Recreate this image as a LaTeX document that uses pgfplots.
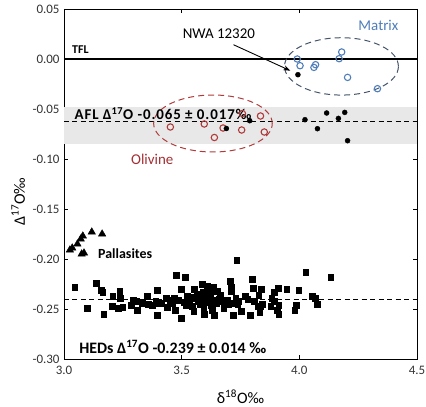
\documentclass[border=0pt]{standalone}
\usepackage{fontspec}
\setmainfont{Carlito}
\usepackage{pgfplots}
\pgfplotsset{compat=1.18}
\usetikzlibrary{arrows.meta}
\definecolor{matblue}{HTML}{4F7EBB}
\definecolor{olired}{HTML}{B03A3A}
\definecolor{olitext}{HTML}{A32E32}
\definecolor{matell}{HTML}{44546A}
\definecolor{band}{HTML}{E8E8E8}
\begin{document}
\begin{tikzpicture}
\path[use as bounding box] (-64bp,-48bp) rectangle (362bp,359bp);
\begin{axis}[
  scale only axis, width=353bp, height=350bp,
  xmin=3, xmax=4.5, ymin=-0.30, ymax=0.05,
  xtick={3,3.5,4,4.5},
  ytick={-0.30,-0.25,-0.20,-0.15,-0.10,-0.05,0,0.05},
  tick align=inside, major tick length=4bp,
  tick style={black, line width=0.8pt},
  axis line style={line width=1pt},
  /pgf/number format/assume math mode=true,
  xticklabel style={/pgf/number format/fixed, /pgf/number format/fixed zerofill, /pgf/number format/precision=1, font=\fontsize{13}{15}\selectfont, color=black!80, yshift=-4bp},
  yticklabel style={/pgf/number format/fixed, /pgf/number format/fixed zerofill, /pgf/number format/precision=2, font=\fontsize{13}{15}\selectfont, color=black!80, xshift=-1bp},
  scaled y ticks=false,
  xlabel={δ\textsuperscript{18}O‰},
  ylabel={Δ\textsuperscript{17}O‰},
  xlabel style={at={(axis description cs:0.5,-0.108)}, anchor=center, font=\fontsize{16}{18}\selectfont},
  ylabel style={at={(axis description cs:-0.130,0.45)}, anchor=center, rotate=0, font=\fontsize{16}{18}\selectfont},
  clip=false,
]
% AFL band
\fill[band] (axis cs:3,-0.048) rectangle (axis cs:4.5,-0.0847);
% TFL
\addplot[black, line width=1.4pt] coordinates {(3,0) (4.5,0)};
% AFL dashed
\addplot[black, dashed, line width=1pt, dash pattern=on 5bp off 3.5bp] coordinates {(3,-0.0624) (4.5,-0.0624)};
% HED dashed
\addplot[black, dashed, line width=1pt, dash pattern=on 5bp off 3.5bp] coordinates {(3,-0.2407) (4.5,-0.2407)};
% Ellipses
\draw[matell, dashed, line width=1pt, dash pattern=on 6bp off 4bp] (axis cs:4.179,-0.0074) ellipse [x radius=0.242, y radius=0.0287];
\draw[olired, dashed, line width=1pt, dash pattern=on 6bp off 4bp] (axis cs:3.633,-0.0645) ellipse [x radius=0.252, y radius=0.0285];
% Matrix open circles
\addplot[only marks, mark=o, mark size=3.2bp, mark options={matblue, line width=1.1pt}] coordinates {
(3.991,0.000) (4.003,-0.0067) (4.062,-0.0084) (4.069,-0.0057) (4.169,0.0003) (4.180,0.007) (4.205,-0.0184) (4.332,-0.0297)};
% Olivine open circles
\addplot[only marks, mark=o, mark size=3.2bp, mark options={olired, line width=1.1pt}] coordinates {
(3.452,-0.068) (3.596,-0.065) (3.639,-0.0785) (3.676,-0.069) (3.758,-0.0545) (3.755,-0.071) (3.835,-0.057) (3.851,-0.073)};
% Black dots (AFL bulk)
\addplot[only marks, mark=*, mark size=2.5bp, mark options={black}] coordinates {
(3.994,-0.0157) (4.024,-0.0607) (4.077,-0.0697) (4.116,-0.054) (4.166,-0.0594) (4.193,-0.0534) (4.205,-0.0817) (3.690,-0.0695) (3.789,-0.0617)};
% Pallasites
\addplot[only marks, mark=triangle*, mark size=4.3bp, mark options={black}] coordinates {
(3.025,-0.191) (3.035,-0.189) (3.057,-0.185) (3.071,-0.180) (3.080,-0.177) (3.118,-0.173) (3.162,-0.175) (3.075,-0.195) (3.085,-0.194)};
% HEDs
\addplot[only marks, mark=square*, mark size=2.8bp, mark options={black}] coordinates {
(3.046,-0.228) (3.136,-0.224) (3.159,-0.231) (3.165,-0.233) (3.098,-0.249) (3.169,-0.255)
(3.207,-0.237) (3.205,-0.247) (3.236,-0.232) (3.240,-0.239) (3.230,-0.249) (3.250,-0.248)
(3.285,-0.246) (3.293,-0.241) (3.307,-0.242) (3.311,-0.251) (3.332,-0.244) (3.354,-0.237)
(3.358,-0.245) (3.375,-0.246) (3.389,-0.242) (3.396,-0.231) (3.396,-0.256) (3.403,-0.244)
(3.733,-0.201) (3.477,-0.216) (3.516,-0.218) (3.497,-0.230) (3.416,-0.244) (3.435,-0.239)
(3.438,-0.248) (3.452,-0.241) (3.469,-0.239) (3.473,-0.251) (3.487,-0.241) (3.497,-0.259)
(3.508,-0.243) (3.523,-0.237) (3.534,-0.242) (3.544,-0.247) (3.551,-0.252) (3.554,-0.230)
(3.565,-0.235) (3.568,-0.242) (3.579,-0.245) (3.587,-0.225) (3.591,-0.233) (3.594,-0.249)
(3.597,-0.255) (3.605,-0.239) (3.608,-0.227) (3.615,-0.242) (3.622,-0.234) (3.625,-0.246)
(3.629,-0.251) (3.636,-0.228) (3.639,-0.256) (3.648,-0.244) (3.651,-0.232) (3.665,-0.236)
(3.672,-0.242) (3.679,-0.249) (3.693,-0.241) (3.707,-0.222) (3.710,-0.228) (3.710,-0.232)
(3.715,-0.244) (3.719,-0.256) (3.729,-0.239) (3.738,-0.245) (3.753,-0.252) (3.771,-0.237)
(3.781,-0.240) (3.792,-0.256) (3.800,-0.220) (3.804,-0.229) (3.807,-0.242) (3.824,-0.247)
(3.828,-0.236) (4.027,-0.213) (4.133,-0.218) (3.839,-0.230) (3.910,-0.229) (3.946,-0.230)
(3.998,-0.231) (3.892,-0.233) (3.882,-0.239) (3.892,-0.242) (3.842,-0.245) (3.835,-0.247)
(3.878,-0.247) (3.913,-0.246) (3.906,-0.251) (3.913,-0.255) (3.831,-0.253) (3.987,-0.246)
(3.981,-0.251) (4.055,-0.237) (4.067,-0.239) (4.077,-0.245)
(3.58,-0.240) (3.60,-0.243) (3.62,-0.238) (3.64,-0.241) (3.66,-0.240) (3.56,-0.239)
(3.46,-0.244) (3.52,-0.246) (3.70,-0.245) (3.74,-0.242) (3.63,-0.245) (3.55,-0.238)};
% Text
\node[anchor=west, font=\fontsize{12}{14}\selectfont\bfseries] at (axis cs:3.02,0.0095) {TFL};
\node[anchor=west, font=\fontsize{15}{17}\selectfont\bfseries\addfontfeature{LetterSpace=6}] at (axis cs:3.03,-0.0545) {AFL Δ\textsuperscript{17}O -0.065 ± 0.017‰};
\node[font=\fontsize{15}{17}\selectfont] at (axis cs:3.658,0.025) {NWA 12320};
\node[font=\fontsize{15}{17}\selectfont, text=matblue] at (axis cs:4.336,0.0335) {Matrix};
\node[font=\fontsize{15}{17}\selectfont, text=olitext] at (axis cs:3.375,-0.1) {Olivine};
\node[font=\fontsize{14}{16}\selectfont\bfseries] at (axis cs:3.26,-0.195) {Pallasites};
\node[anchor=west, font=\fontsize{16}{18}\selectfont\bfseries] at (axis cs:3.05,-0.288) {HEDs Δ\textsuperscript{17}O -0.239 ± 0.014 ‰};
\draw[-{Stealth[length=7bp,width=5bp]}, line width=0.9pt] (axis cs:3.72,0.0143) -- (axis cs:3.962,-0.0117);
\end{axis}
\end{tikzpicture}
\end{document}
